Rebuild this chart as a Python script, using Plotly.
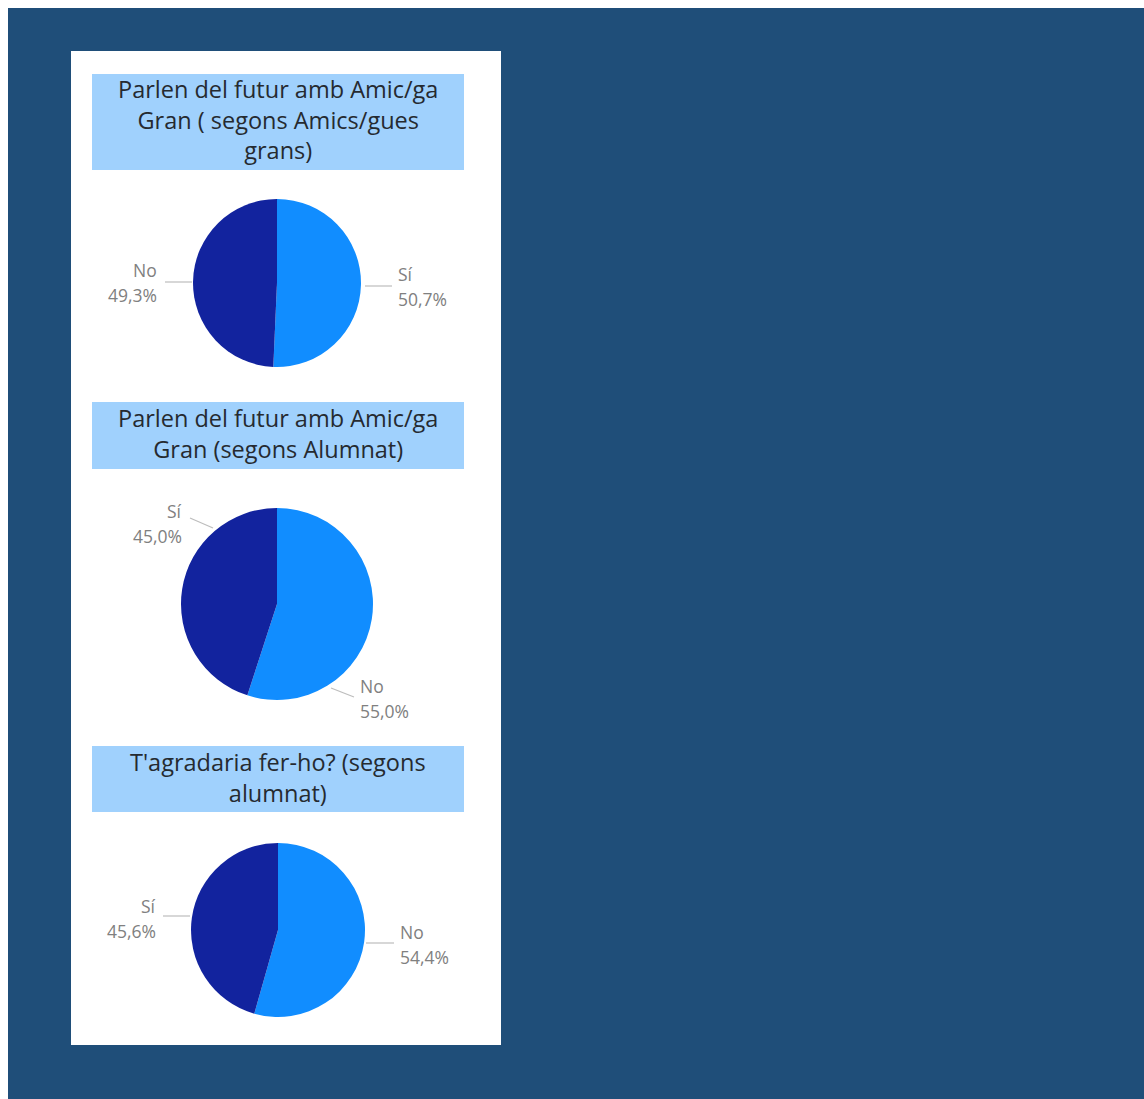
import plotly.graph_objects as go

# ---------------- data ----------------
titles = [
    ["Parlen del futur amb Amic/ga", "Gran ( segons Amics/gues", "grans)"],
    ["Parlen del futur amb Amic/ga", "Gran (segons Alumnat)"],
    ["T'agradaria fer-ho? (segons", "alumnat)"],
]
pie1_labels = ["Sí", "No"]
pie1_values = [50.7, 49.3]
pie2_labels = ["No", "Sí"]
pie2_values = [55.0, 45.0]
pie3_labels = ["No", "Sí"]
pie3_values = [54.4, 45.6]

# ---------------- style ----------------
BG = "#1F4E79"
LIGHT = "#118DFF"
DARK = "#12239E"
BOX = "#A0D1FD"
TITLE_C = "#252A30"
LABEL_C = "#808080"
LINE_C = "#BDBDBD"
W, H = 1136, 1092
OX, OY = 8, 8


def px(x):
    return (x - OX) / W


def py(y):
    return 1 - (y - OY) / H


def fmt(v):
    return f"{v:.1f}".replace(".", ",") + "%"


fig = go.Figure()

pies = [
    (pie1_labels, pie1_values, (277, 283, 84)),
    (pie2_labels, pie2_values, (277, 604, 96)),
    (pie3_labels, pie3_values, (278, 930, 87)),
]
for labels, values, (cx, cy, r) in pies:
    colors = [LIGHT if i == 0 else DARK for i in range(len(values))]
    fig.add_trace(go.Pie(
        labels=labels, values=values, sort=False, direction="clockwise",
        rotation=0, textinfo="none", hoverinfo="label+percent",
        marker=dict(colors=colors, line=dict(width=0)),
        domain=dict(x=[px(cx - r), px(cx + r)], y=[py(cy + r), py(cy - r)]),
        showlegend=False,
    ))

shapes = [
    # white panel
    dict(type="rect", xref="paper", yref="paper", x0=px(71), x1=px(501),
         y0=py(1045), y1=py(51), fillcolor="white", line=dict(width=0), layer="below"),
]
# title boxes
boxes = [(74, 170), (402, 469), (746, 812)]
for y0, y1 in boxes:
    shapes.append(dict(type="rect", xref="paper", yref="paper", x0=px(92), x1=px(464),
                       y0=py(y1), y1=py(y0), fillcolor=BOX, line=dict(width=0), layer="below"))

# leader lines
lines = [
    (165, 282, 192, 282), (365, 286, 392, 286),
    (190, 518, 213, 528), (331, 688, 354, 697),
    (163, 916, 190, 916), (366, 943, 394, 943),
]
for x0, y0, x1, y1 in lines:
    shapes.append(dict(type="line", xref="paper", yref="paper", x0=px(x0), x1=px(x1),
                       y0=py(y0), y1=py(y1), line=dict(color=LINE_C, width=1.2)))

annotations = []
title_center_y = [120, 434, 777]
for lines_t, y in zip(titles, title_center_y):
    annotations.append(dict(text="<br>".join(lines_t), x=px(278), y=py(y),
                            xref="paper", yref="paper", showarrow=False,
                            xanchor="center", yanchor="middle", align="center",
                            font=dict(family="Open Sans", size=23.5, weight=500, color=TITLE_C)))

# slice labels: (label, value, x, y_name, anchor)
label_pos = [
    (pie1_labels[1], pie1_values[1], 159, 270, "right"),
    (pie1_labels[0], pie1_values[0], 396, 274, "left"),
    (pie2_labels[1], pie2_values[1], 184, 511, "right"),
    (pie2_labels[0], pie2_values[0], 358, 686, "left"),
    (pie3_labels[1], pie3_values[1], 158, 906, "right"),
    (pie3_labels[0], pie3_values[0], 398, 932, "left"),
]
for lab, val, x, y, anc in label_pos:
    for t, yy in ((lab, y), (fmt(val), y + 25)):
        annotations.append(dict(text=t, x=px(x), y=py(yy), xref="paper", yref="paper",
                                showarrow=False, xanchor=anc, yanchor="middle",
                                font=dict(family="Open Sans", size=17.5, color=LABEL_C)))

fig.update_layout(
    width=W, height=H, margin=dict(l=0, r=0, t=0, b=0),
    paper_bgcolor=BG, plot_bgcolor=BG,
    shapes=shapes, annotations=annotations,
    separators=",.",
)

fig.write_html(
    "out.html",
    post_script="document.body.style.margin='8px 0 0 8px';document.body.style.overflow='hidden';",
)
